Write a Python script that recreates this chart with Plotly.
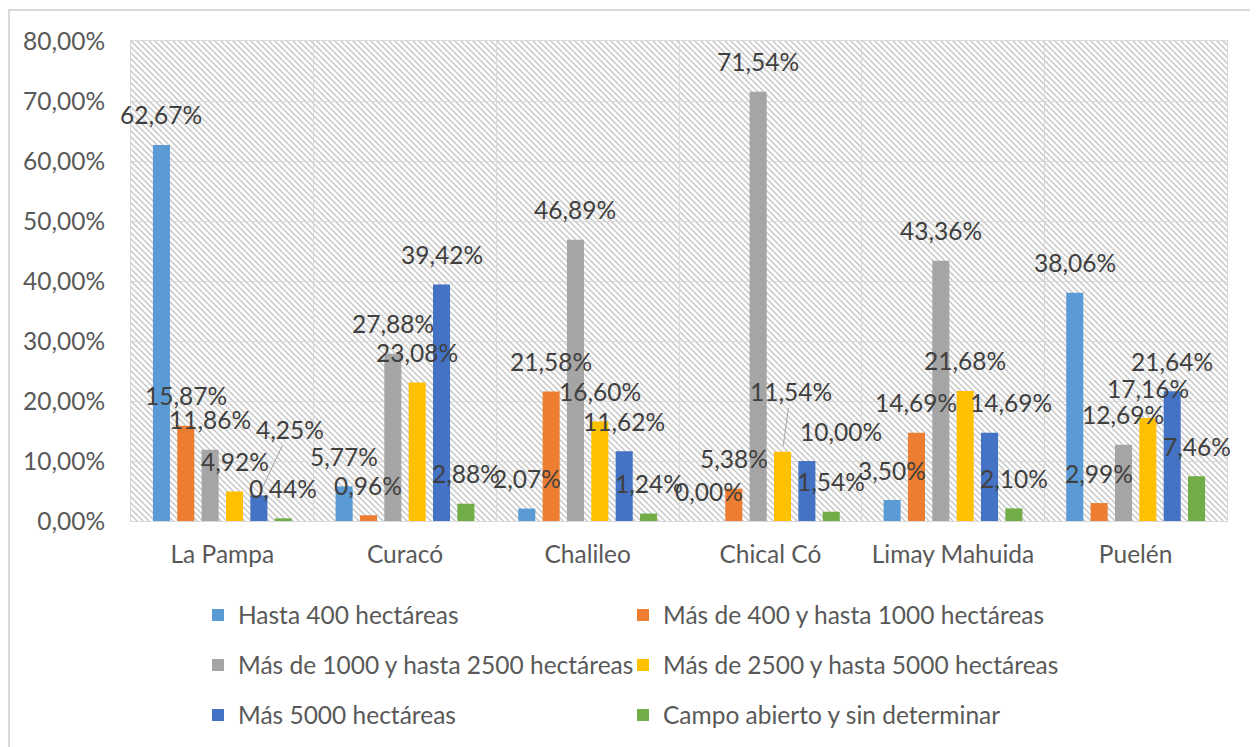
import base64
import plotly.graph_objects as go

categories = ["La Pampa", "Curacó", "Chalileo", "Chical Có", "Limay Mahuida", "Puelén"]
series_names = [
    "Hasta 400 hectáreas",
    "Más de 400 y hasta 1000 hectáreas",
    "Más de 1000 y hasta 2500 hectáreas",
    "Más de 2500 y hasta 5000 hectáreas",
    "Más 5000 hectáreas",
    "Campo abierto y sin determinar",
]
hasta_400 = [62.67, 5.77, 2.07, 0.00, 3.50, 38.06]
de_400_a_1000 = [15.87, 0.96, 21.58, 5.38, 14.69, 2.99]
de_1000_a_2500 = [11.86, 27.88, 46.89, 71.54, 43.36, 12.69]
de_2500_a_5000 = [4.92, 23.08, 16.60, 11.54, 21.68, 17.16]
mas_5000 = [4.25, 39.42, 11.62, 10.00, 14.69, 21.64]
campo_abierto = [0.44, 2.88, 1.24, 1.54, 2.10, 7.46]
series_values = [hasta_400, de_400_a_1000, de_1000_a_2500, de_2500_a_5000, mas_5000, campo_abierto]

colors = ["#5B9BD5", "#ED7D31", "#A5A5A5", "#FFC000", "#4472C4", "#70AD47"]

# label style adjustments (pixels): (series, category) -> (dx, dy, leader)
LABEL_DY = -30
label_moves = {
    (4, 0): (31, -66, True),
    (3, 3): (8, -60, True),
    (4, 3): (34, LABEL_DY, False),
    (4, 4): (21, LABEL_DY, False),
}

OFF = 8  # page body margin
W, H = 1258, 747
ML, MR, MT, MB = 131 - OFF, 1258 - (1227 - OFF), 41 - OFF, 747 - (521 - OFF)
PW, PH = W - ML - MR, H - MT - MB
BARGAP, GROUPGAP = 0.2, 0.3
FONT = "Lato, 'Open Sans', sans-serif"
FS = 24.5


def py(p):
    """page pixel y -> paper y"""
    return (H - MB - (p - OFF)) / PH


def px(p):
    """page pixel x -> paper x"""
    return ((p - OFF) - ML) / PW


# legend grid: 2 columns x 3 rows (page pixels)
LEG_COLS = [198, 623]
LEG_ROWS = [615, 665, 715]

fig = go.Figure()
legend_ids = ["legend" if i == 0 else f"legend{i + 1}" for i in range(len(series_names))]
for i, (name, vals) in enumerate(zip(series_names, series_values)):
    fig.add_trace(go.Bar(
        x=categories, y=vals, name=name, marker_color=colors[i],
        marker_line_width=0, legend=legend_ids[i], hoverinfo="skip",
    ))

n = len(series_values)
slot = (1 - BARGAP) / n
annotations = []
for si, vals in enumerate(series_values):
    for ci, v in enumerate(vals):
        xc = ci - (1 - BARGAP) / 2 + (si + 0.5) * slot
        txt = f"{v:.2f}".replace(".", ",") + "%"
        dx, dy, leader = label_moves.get((si, ci), (0, LABEL_DY, False))
        if leader:
            annotations.append(dict(
                x=xc, y=v, xref="x", yref="y", text=txt, showarrow=True,
                ax=dx, ay=dy, arrowhead=0, arrowwidth=1, arrowcolor="#a6a6a6",
                standoff=6, font=dict(family=FONT, size=FS, color="#404040"),
            ))
        else:
            annotations.append(dict(
                x=xc, y=v, xref="x", yref="y", text=txt, showarrow=False,
                xshift=dx, yshift=-dy, font=dict(family=FONT, size=FS, color="#404040"),
            ))

svg = (
    f'<svg xmlns="http://www.w3.org/2000/svg" width="{PW}" height="{PH}">'
    '<defs><pattern id="h" width="6" height="6" patternUnits="userSpaceOnUse">'
    '<path d="M-1,-1 L7,7 M-1,5 L1,7 M5,-1 L7,1" stroke="#cdcdcd" stroke-width="1.6"/>'
    '</pattern></defs>'
    f'<rect width="{PW}" height="{PH}" fill="white"/>'
    f'<rect width="{PW}" height="{PH}" fill="url(#h)"/></svg>'
)
src = "data:image/svg+xml;base64," + base64.b64encode(svg.encode()).decode()

legend_common = dict(
    orientation="h", xref="paper", yref="paper", xanchor="left", yanchor="middle",
    font=dict(family=FONT, size=FS, color="#595959"),
    bgcolor="rgba(0,0,0,0)", itemwidth=30,
)
legends = {}
for i, lid in enumerate(legend_ids):
    legends[lid] = dict(x=px(LEG_COLS[i % 2]), y=py(LEG_ROWS[i // 2]), **legend_common)

fig.update_layout(
    width=W, height=H,
    margin=dict(l=ML, r=MR, t=MT, b=MB),
    paper_bgcolor="white", plot_bgcolor="rgba(0,0,0,0)",
    barmode="group", bargap=BARGAP, bargroupgap=GROUPGAP,
    separators=",.",
    font=dict(family=FONT, color="#595959"),
    xaxis=dict(
        type="category", range=[-0.5, len(categories) - 0.5], tickson="boundaries",
        showgrid=True, gridcolor="#d9d9d9",
        gridwidth=1, showline=True, linecolor="#d9d9d9", mirror=True,
        ticks="", ticklabelstandoff=12,
        tickfont=dict(family=FONT, size=FS, color="#595959"),
    ),
    yaxis=dict(
        range=[0, 80], dtick=10, tickformat=".2f", ticksuffix="%",
        showgrid=True, gridcolor="#d9d9d9", gridwidth=1, showline=True,
        linecolor="#d9d9d9", mirror=True, zeroline=False,
        ticks="outside", ticklen=20, tickcolor="rgba(0,0,0,0)",
        tickfont=dict(family=FONT, size=FS, color="#595959"),
    ),
    images=[dict(source=src, xref="paper", yref="paper", x=0, y=1, sizex=1, sizey=1,
                 xanchor="left", yanchor="top", sizing="stretch", layer="below")],
    annotations=annotations,
    shapes=[dict(type="rect", xref="paper", yref="paper",
                 x0=px(OFF + 1), x1=px(W + 20), y0=py(H + 20), y1=py(10),
                 line=dict(color="#d9d9d9", width=2))],
    showlegend=True,
    **legends,
)

fig.write_html("out.html")
